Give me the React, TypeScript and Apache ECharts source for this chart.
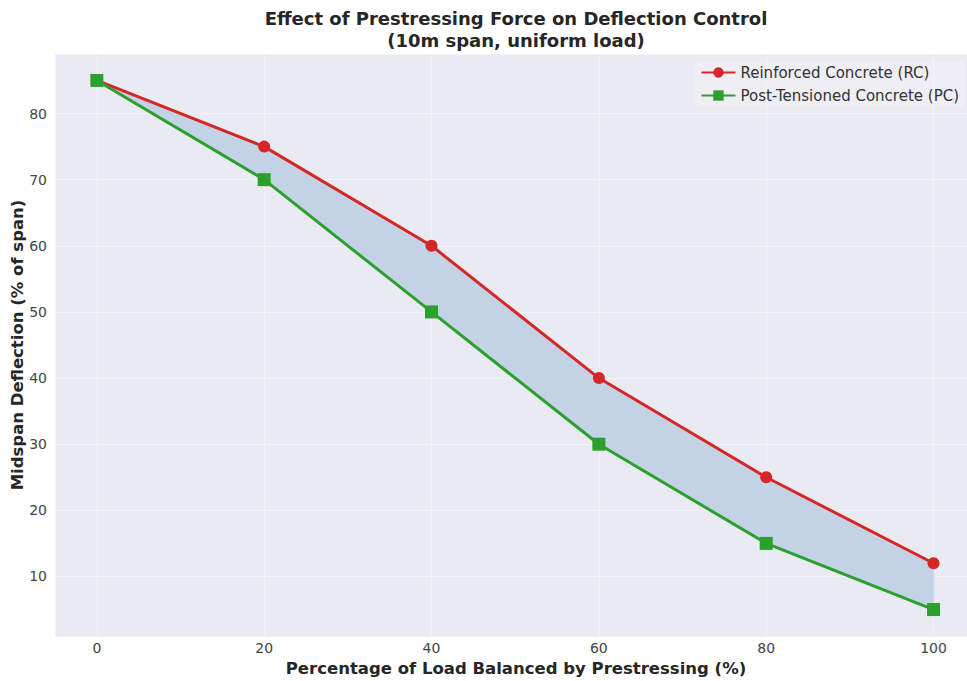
import React, { useEffect, useRef } from "react";
import * as echarts from "echarts";

const loadBalanced = [0, 20, 40, 60, 80, 100];
const rcDeflection = [85, 75, 60, 40, 25, 12];
const pcDeflection = [85, 70, 50, 30, 15, 5];
const seriesNames = ["Reinforced Concrete (RC)", "Post-Tensioned Concrete (PC)"];
const titleText = "Effect of Prestressing Force on Deflection Control\n(10m span, uniform load)";
const xName = "Percentage of Load Balanced by Prestressing (%)";
const yName = "Midspan Deflection (% of span)";

export default function App() {
  const ref = useRef<HTMLDivElement>(null);
  useEffect(() => {
    if (!ref.current) return;
    const chart = echarts.init(ref.current, null, { renderer: "svg" });
    const font = "DejaVu Sans";
    const rc = loadBalanced.map((x, i) => [x, rcDeflection[i]]);
    const pc = loadBalanced.map((x, i) => [x, pcDeflection[i]]);
    const segs = loadBalanced.slice(0, -1).map((x, i) => [
      x, loadBalanced[i + 1], rcDeflection[i], rcDeflection[i + 1], pcDeflection[i], pcDeflection[i + 1],
    ]);
    chart.setOption({
      animation: false,
      backgroundColor: "#ffffff",
      textStyle: { fontFamily: font },
      title: {
        text: titleText,
        left: 511,
        textAlign: "center",
        top: 2,
        textStyle: { fontFamily: font, fontSize: 18, fontWeight: "bold", color: "#262626", lineHeight: 22 },
      },
      grid: {
        left: 55, right: 0, top: 54, bottom: 45, show: true, backgroundColor: "#EAEAF2", borderWidth: 0,
        containLabel: false, outerBoundsMode: "none",
      },
      legend: {
        data: seriesNames,
        right: 2,
        top: 61,
        orient: "vertical",
        itemWidth: 34,
        itemHeight: 13,
        itemGap: 8,
        backgroundColor: "rgba(255,255,255,0.2)",
        padding: [4, 6, 4, 6],
        textStyle: { fontFamily: font, fontSize: 15, color: "#333333" },
      },
      xAxis: {
        type: "value",
        min: -5,
        max: 104,
        name: xName,
        nameLocation: "middle",
        nameGap: 24,
        nameMoveOverlap: false,
        nameTextStyle: { fontFamily: font, fontSize: 16.5, fontWeight: "bold", color: "#262626", padding: [0, 0, 0, 10] },
        axisLine: { show: false },
        axisTick: { show: false },
        axisLabel: { showMinLabel: false, showMaxLabel: false, fontFamily: font, fontSize: 14, color: "#444444", margin: 5 },
        splitLine: { show: true, lineStyle: { color: "#F3F3F7", width: 1 } },
      },
      yAxis: {
        type: "value",
        min: 1,
        max: 89,
        splitNumber: 8,
        name: yName,
        nameLocation: "middle",
        nameGap: 29,
        nameMoveOverlap: false,
        nameTextStyle: { fontFamily: font, fontSize: 16.5, fontWeight: "bold", color: "#262626" },
        axisLine: { show: false },
        axisTick: { show: false },
        axisLabel: { showMinLabel: false, showMaxLabel: false, fontFamily: font, fontSize: 14, color: "#444444", margin: 8 },
        splitLine: { show: true, lineStyle: { color: "#F3F3F7", width: 1 } },
      },
      series: [
        {
          name: "band",
          type: "custom",
          silent: true,
          z: 1,
          data: segs,
          encode: { x: [0, 1], y: [2, 3, 4, 5] },
          renderItem: (params: any, api: any) => {
            const x0 = api.value(0), x1 = api.value(1);
            const pts = [
              api.coord([x0, api.value(2)]),
              api.coord([x1, api.value(3)]),
              api.coord([x1, api.value(5)]),
              api.coord([x0, api.value(4)]),
            ];
            return {
              type: "polygon",
              shape: { points: pts },
              style: { fill: "#C3D2E4", stroke: "#C3D2E4", lineWidth: 0.6 },
            };
          },
        },
        {
          name: seriesNames[0],
          type: "line",
          data: rc,
          symbol: "circle",
          symbolSize: 12,
          lineStyle: { color: "#d62728", width: 3 },
          itemStyle: { color: "#d62728" },
          z: 3,
        },
        {
          name: seriesNames[1],
          type: "line",
          data: pc,
          symbol: "rect",
          symbolSize: 13,
          lineStyle: { color: "#2ca02c", width: 3 },
          itemStyle: { color: "#2ca02c" },
          z: 4,
        },
      ],
    });
    return () => chart.dispose();
  }, []);
  return <div ref={ref} style={{ position: "fixed", left: 0, top: 0, width: 967, height: 681 }} />;
}
